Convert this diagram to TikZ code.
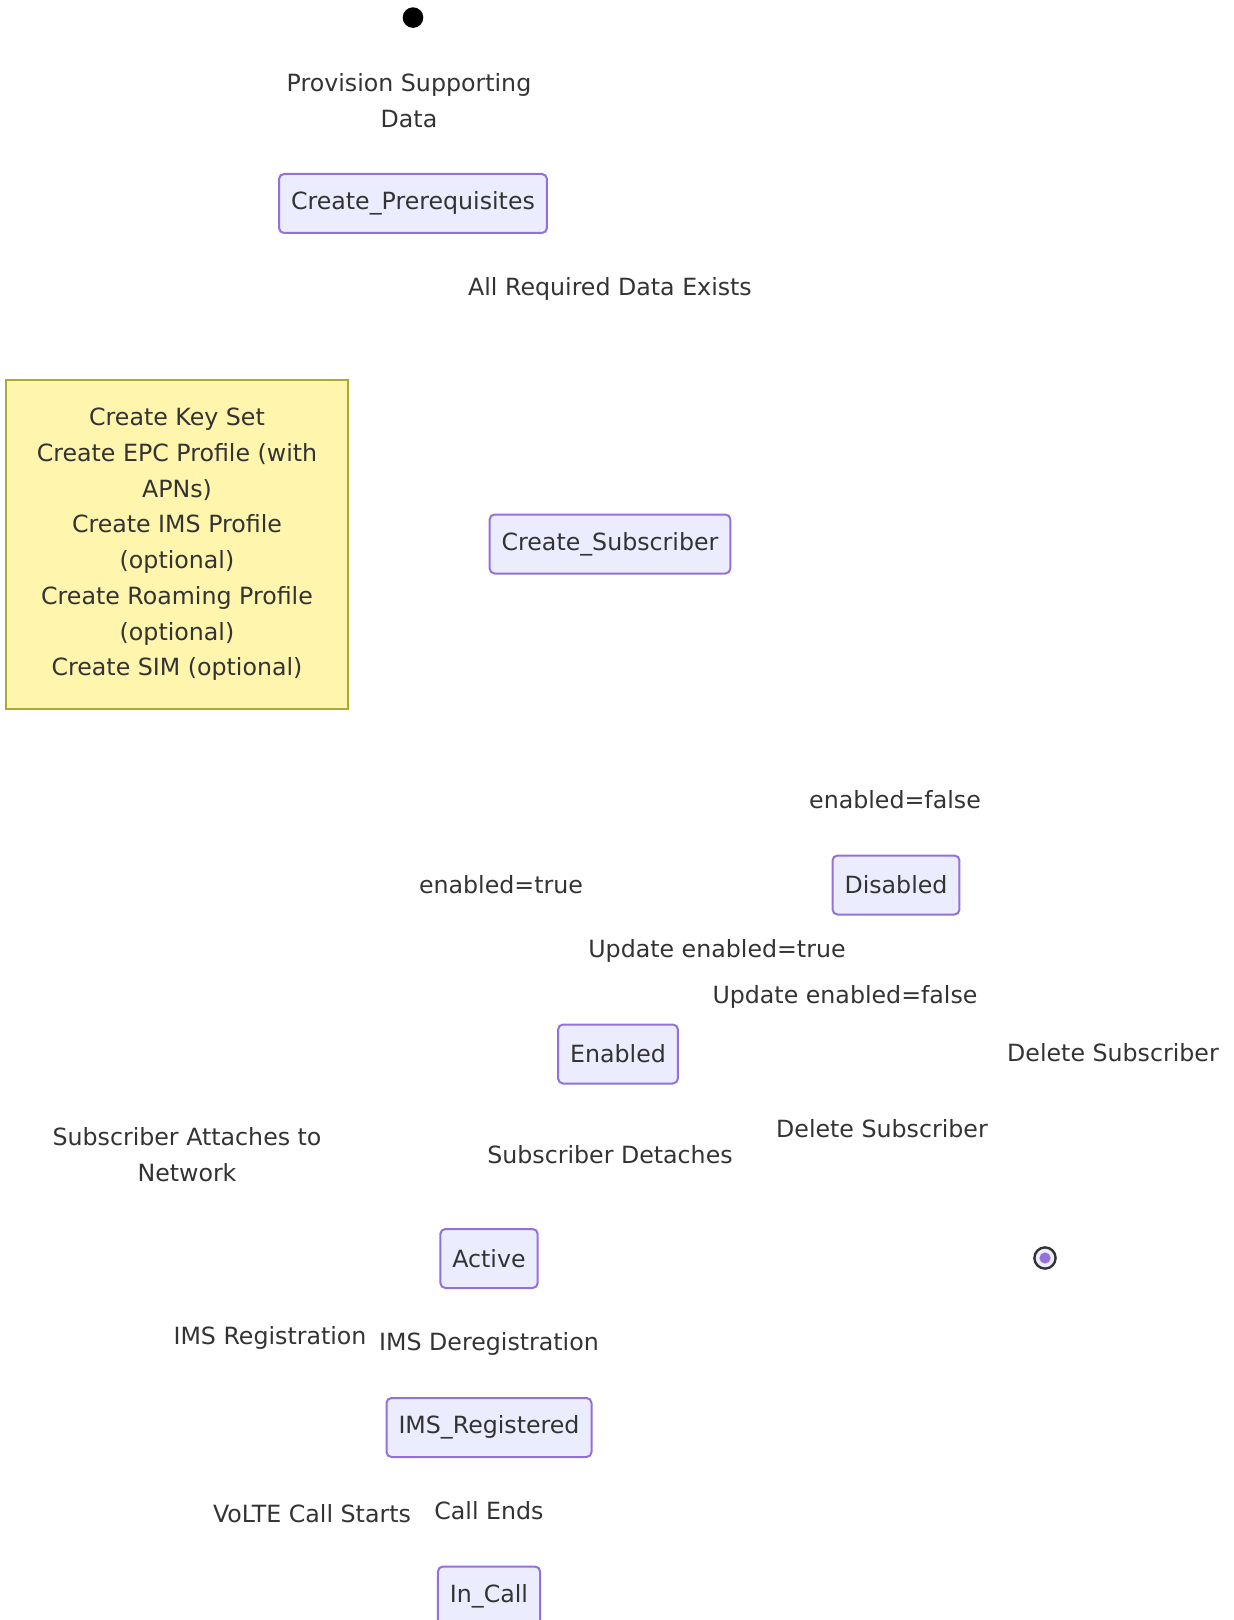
\documentclass[tikz,border=0pt]{standalone}
\usepackage{fontspec}
\setmainfont{DejaVu Sans}
\usepackage{xcolor}
\usetikzlibrary{positioning}
\definecolor{StFill}{HTML}{ECECFF}
\definecolor{StLine}{HTML}{9370DB}
\definecolor{NoteFill}{HTML}{FFF5AD}
\definecolor{NoteLine}{HTML}{AAAA33}
\definecolor{TxtGray}{HTML}{333333}
\begin{document}
\begin{tikzpicture}[x=0.5pt, y=-0.5pt,
          stbox/.style={rectangle, rounded corners=2.5pt, draw=StLine,
                        line width=1pt, fill=StFill, text=TxtGray,
                        minimum height=29.5pt, inner xsep=6pt,
                        font=\fontsize{11.85}{18}\selectfont},
          lbl/.style={align=center, text=TxtGray, inner sep=0pt,
                      font=\fontsize{11.85}{18}\selectfont},
          notebox/.style={rectangle, draw=NoteLine, line width=0.7pt,
                          fill=NoteFill, text=TxtGray, align=center,
                          minimum width=171pt, minimum height=164.5pt,
                          font=\fontsize{11.85}{17.85}\selectfont}
        ]
        \useasboundingbox (0,0) rectangle (1234,1620);

        % start and end states
        \fill[black] (413,17.6) circle (10.3) coordinate (start);
        \draw[TxtGray, line width=1.2pt, fill=StFill] (1045,1258) circle (10.6)
              coordinate (finish);
        \fill[StLine] (1045,1258) circle (5.6);

        % states
        \node[stbox] (prereq)   at (413,203.5) {Create\_Prerequisites};
        \node[stbox] (createsub) at (610,544)  {Create\_Subscriber};
        \node[stbox] (disabled) at (896,885)   {Disabled};
        \node[stbox] (enabled)  at (618,1054)  {Enabled};
        \node[stbox] (active)   at (489,1258.5) {Active};
        \node[stbox] (imsreg)   at (489,1427.5) {IMS\_Registered};
        \node[stbox] (incall)   at (489,1596)  {In\_Call};

        % note
        \node[notebox] (prenote) at (177,544.5)
              {Create Key Set\\Create EPC Profile (with\\APNs)\\
               Create IMS Profile\\(optional)\\Create Roaming Profile\\
               (optional)\\Create SIM (optional)};

        % transition labels
        \node[lbl] (lprov)   at (409,100.5) {Provision Supporting\\Data};
        \node[lbl] (lreq)    at (610,288.5) {All Required Data Exists};
        \node[lbl] (lfalse)  at (895,800)  {enabled=false};
        \node[lbl] (ltrue)   at (501,885)  {enabled=true};
        \node[lbl] (lupdt)   at (717,950.5) {Update enabled=true};
        \node[lbl] (lupdf)   at (845,997)  {Update enabled=false};
        \node[lbl] (ldelr)   at (1113,1053) {Delete Subscriber};
        \node[lbl] (ldelm)   at (882,1129) {Delete Subscriber};
        \node[lbl] (lattach) at (187,1155) {Subscriber Attaches to\\Network};
        \node[lbl] (ldetach) at (610,1155) {Subscriber Detaches};
        \node[lbl] (limsr)   at (270,1337.5) {IMS Registration};
        \node[lbl] (limsd)   at (489,1343.5) {IMS Deregistration};
        \node[lbl] (lvolte)  at (312,1514) {VoLTE Call Starts};
        \node[lbl] (lends)   at (489,1511) {Call Ends};
      \end{tikzpicture}
\end{document}
